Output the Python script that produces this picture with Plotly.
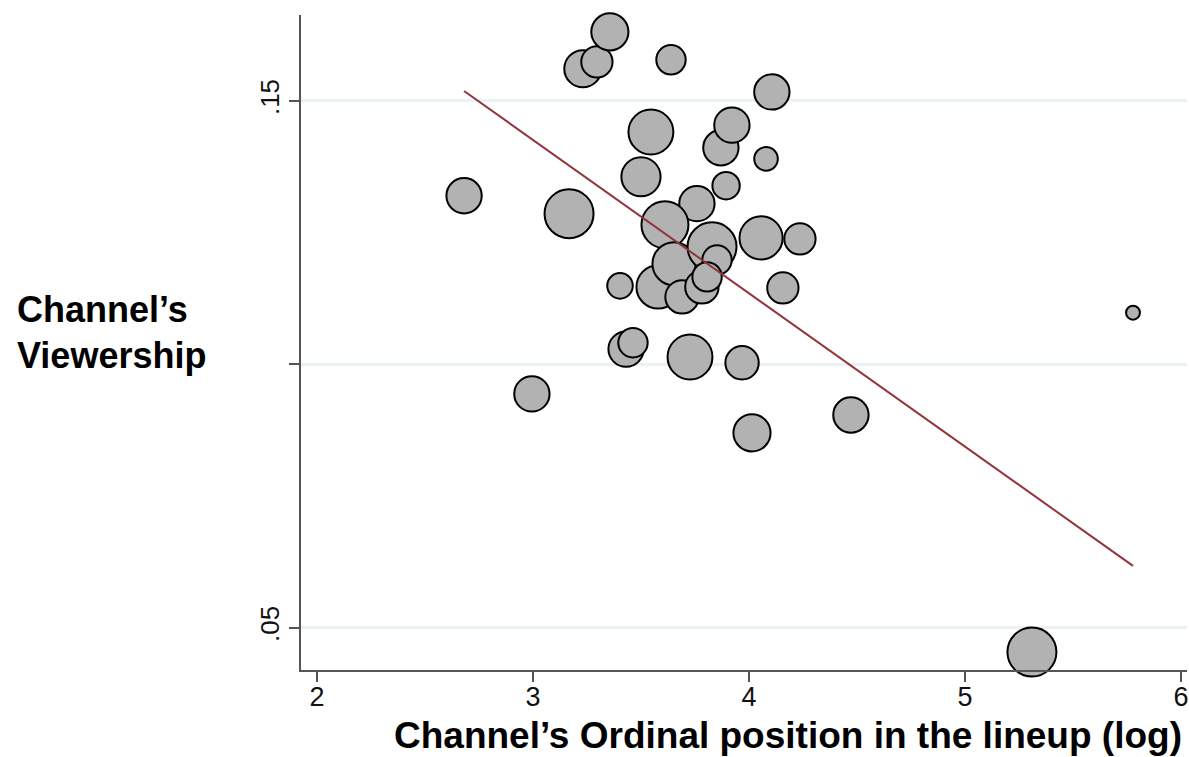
import plotly.graph_objects as go

# Data
log_position = [3.356, 3.231, 3.296, 3.639, 4.106, 3.546, 3.921, 3.870, 4.079, 3.500,
                2.681, 3.167, 3.894, 3.759, 3.611, 3.829, 3.852, 4.056, 4.236, 3.653,
                3.579, 3.690, 3.782, 3.806, 3.403, 4.157, 3.431, 3.463, 3.727, 3.968,
                2.995, 4.014, 4.472, 5.778, 5.310]
viewership = [0.1631, 0.1561, 0.1574, 0.1578, 0.1517, 0.1441, 0.1454, 0.1411, 0.1390, 0.1356,
              0.1320, 0.1286, 0.1339, 0.1305, 0.1265, 0.1223, 0.1198, 0.1240, 0.1238, 0.1191,
              0.1147, 0.1128, 0.1147, 0.1166, 0.1149, 0.1145, 0.1029, 0.1041, 0.1014, 0.1003,
              0.0944, 0.0870, 0.0904, 0.1098, 0.0454]
weight = [14.4, 14.4, 10.2, 9.0, 13.0, 21.0, 13.0, 13.0, 5.8, 16.0,
          13.0, 25.0, 7.8, 13.0, 23.0, 25.0, 9.0, 19.4, 10.2, 19.4,
          19.4, 11.6, 11.6, 9.0, 6.8, 10.2, 13.0, 9.0, 21.0, 11.6,
          13.0, 14.4, 13.0, 2.0, 25.0]

# Order in which bubbles are drawn (later on top)
draw_order = [1, 2, 0, 3, 4, 5, 7, 6, 8, 9, 10, 11, 12, 13, 14, 20, 19, 15, 16, 21,
              22, 23, 17, 18, 24, 25, 26, 27, 28, 29, 30, 31, 32, 33, 34]

# Fitted line
fit_intercept = 0.2299
fit_slope = -0.0291

y_ticks = [0.05, 0.10, 0.15]
y_ticklabels = [".05", "", ".15"]
x_ticks = [2, 3, 4, 5, 6]
x_ticklabels = ["2", "3", "4", "5", "6"]

xs = [log_position[i] for i in draw_order]
ys = [viewership[i] for i in draw_order]
ws = [weight[i] for i in draw_order]

fit_x = [min(log_position), max(log_position)]
fit_y = [fit_intercept + fit_slope * v for v in fit_x]

k = 4.9
fig = go.Figure()
fig.add_trace(go.Scatter(
    x=xs, y=ys, mode="markers", cliponaxis=False,
    marker=dict(size=ws, sizemode="area", sizeref=1 / (2 * k * k),
                color="#B2B2B2", opacity=1,
                line=dict(color="black", width=2)),
    showlegend=False, hoverinfo="x+y"))
fig.add_trace(go.Scatter(
    x=fit_x, y=fit_y, mode="lines",
    line=dict(color="#90353B", width=2),
    showlegend=False))

W, H = 1189, 757
L, R, T, B = 301, 2, 15, 87
pw, ph = W - L - R, H - T - B

fig.update_layout(
    width=W, height=H,
    margin=dict(l=L, r=R, t=T, b=B),
    paper_bgcolor="white", plot_bgcolor="white",
    font=dict(family="Liberation Sans, Arial, sans-serif", color="black"),
    xaxis=dict(range=[1.926, 6.028], tickvals=x_ticks, ticktext=x_ticklabels,
               showgrid=False, zeroline=False, showline=True, linecolor="#555555",
               linewidth=1.5, ticks="outside", ticklen=10, tickwidth=1.5,
               tickcolor="#555555", ticklabelstandoff=-8,
               tickfont=dict(size=27, color="#111111")),
    yaxis=dict(range=[0.0420, 0.1663], tickvals=y_ticks, ticktext=y_ticklabels,
               showgrid=True, gridcolor="#EAF2F3", gridwidth=2.5, zeroline=False,
               showline=True, linecolor="#555555", linewidth=1.5, ticks="outside",
               ticklen=10, tickwidth=1.5, tickcolor="#555555", tickangle=-90,
               tickfont=dict(size=26, color="#111111")),
)

def px_x(p):
    return (p - L) / pw

def px_y(p):
    return (H - B - p) / ph

fig.add_annotation(text="<b>Channel’s Ordinal position in the lineup (log)</b>",
                   xref="paper", yref="paper", x=px_x(1184), y=px_y(735),
                   xanchor="right", yanchor="middle", showarrow=False,
                   font=dict(size=37, color="black"))
fig.add_annotation(text="<b>Channel’s</b>",
                   xref="paper", yref="paper", x=px_x(15), y=px_y(309),
                   xanchor="left", yanchor="middle", showarrow=False,
                   font=dict(size=36, color="black"))
fig.add_annotation(text="<b>Viewership</b>",
                   xref="paper", yref="paper", x=px_x(15), y=px_y(355),
                   xanchor="left", yanchor="middle", showarrow=False,
                   font=dict(size=36, color="black"))

fig.write_html("out.html", config={"displayModeBar": False},
               post_script="document.body.style.margin='0';")
